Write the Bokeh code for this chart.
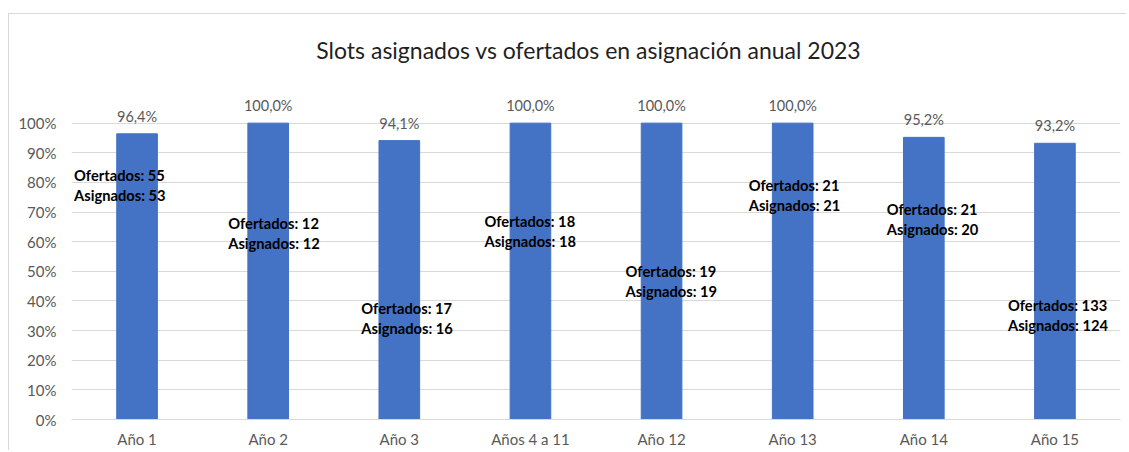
from bokeh.plotting import figure
from bokeh.models import ColumnDataSource, FixedTicker, NumeralTickFormatter, Range1d, Div
from bokeh.layouts import column
from bokeh.core.properties import value
from bokeh.embed import file_html
from bokeh.resources import INLINE

TITLE = "Slots asignados vs ofertados en asignación anual 2023"
categories = ["Año 1", "Año 2", "Año 3", "Años 4 a 11", "Año 12", "Año 13", "Año 14", "Año 15"]
ofertados = [55, 12, 17, 18, 19, 21, 21, 133]
asignados = [53, 12, 16, 18, 19, 21, 20, 124]
porcentaje = [0.964, 1.0, 0.941, 1.0, 1.0, 1.0, 0.952, 0.932]

# annotation placement (as placed in the original chart)
label_y = [0.825, 0.663, 0.377, 0.670, 0.502, 0.791, 0.710, 0.387]
label_dx = [-63, -40, -38, -46, -36, -44, -37, -47]

FONT = "Lato"

src = ColumnDataSource(dict(
    cat=categories,
    pct=porcentaje,
    pct_lbl=[f"{v*100:.1f}%".replace(".", ",") for v in porcentaje],
    of_lbl=[f"Ofertados: {v}" for v in ofertados],
    as_lbl=[f"Asignados: {v}" for v in asignados],
    ly=label_y,
    dx=label_dx,
))

title_div = Div(text=TITLE, width=1065, height=62,
                styles={"font-family": FONT, "font-size": "23px", "color": "#1f1f1f",
                        "text-align": "center", "line-height": "62px", "white-space": "nowrap",
                        "margin-left": "47px"})

p = figure(x_range=categories, y_range=Range1d(0, 1.1), width=1112, height=364,
           output_backend="svg", toolbar_location=None,
           min_border_left=62, min_border_right=1, min_border_top=7, min_border_bottom=30)

p.vbar(x="cat", top="pct", width=0.31, source=src, color="#4472C4")

p.text(x="cat", y="pct", text="pct_lbl", source=src, text_align="center", text_baseline="bottom",
       y_offset=-9, text_font=value(FONT), text_font_size="14.5px", text_color="#595959")

p.text(x="cat", y="ly", text="of_lbl", source=src, x_offset="dx", text_align="left",
       text_baseline="middle", text_font=value(FONT), text_font_size="14.7px",
       text_font_style="bold", text_color="#000000")
p.text(x="cat", y="ly", text="as_lbl", source=src, x_offset="dx", y_offset=20, text_align="left",
       text_baseline="middle", text_font=value(FONT), text_font_size="14.7px",
       text_font_style="bold", text_color="#000000")

p.outline_line_color = None
p.xgrid.grid_line_color = None
p.ygrid.grid_line_color = "#d9d9d9"
p.ygrid.grid_line_width = 1

p.yaxis.ticker = FixedTicker(ticks=[i / 10 for i in range(11)])
p.yaxis.formatter = NumeralTickFormatter(format="0%")
p.yaxis.axis_line_color = None
p.yaxis.major_tick_line_color = None
p.yaxis.minor_tick_line_color = None
p.yaxis.major_tick_out = 0
p.yaxis.major_tick_in = 0
p.yaxis.major_label_standoff = 15
p.yaxis.major_label_text_font = FONT
p.yaxis.major_label_text_font_size = "15px"
p.yaxis.major_label_text_color = "#595959"

p.xaxis.axis_line_color = "#d9d9d9"
p.xaxis.major_tick_line_color = None
p.xaxis.minor_tick_line_color = None
p.xaxis.major_tick_out = 0
p.xaxis.major_tick_in = 0
p.xaxis.major_label_standoff = 10
p.xaxis.major_label_text_font = FONT
p.xaxis.major_label_text_font_size = "15px"
p.xaxis.major_label_text_color = "#595959"

layout = column(title_div, p, spacing=0)
layout.styles = {"border-top": "1px solid #d9d9d9", "border-left": "1px solid #d9d9d9",
                 "margin-top": "13px", "margin-left": "8px"}

open("out.html", "w").write(file_html(layout, INLINE))
